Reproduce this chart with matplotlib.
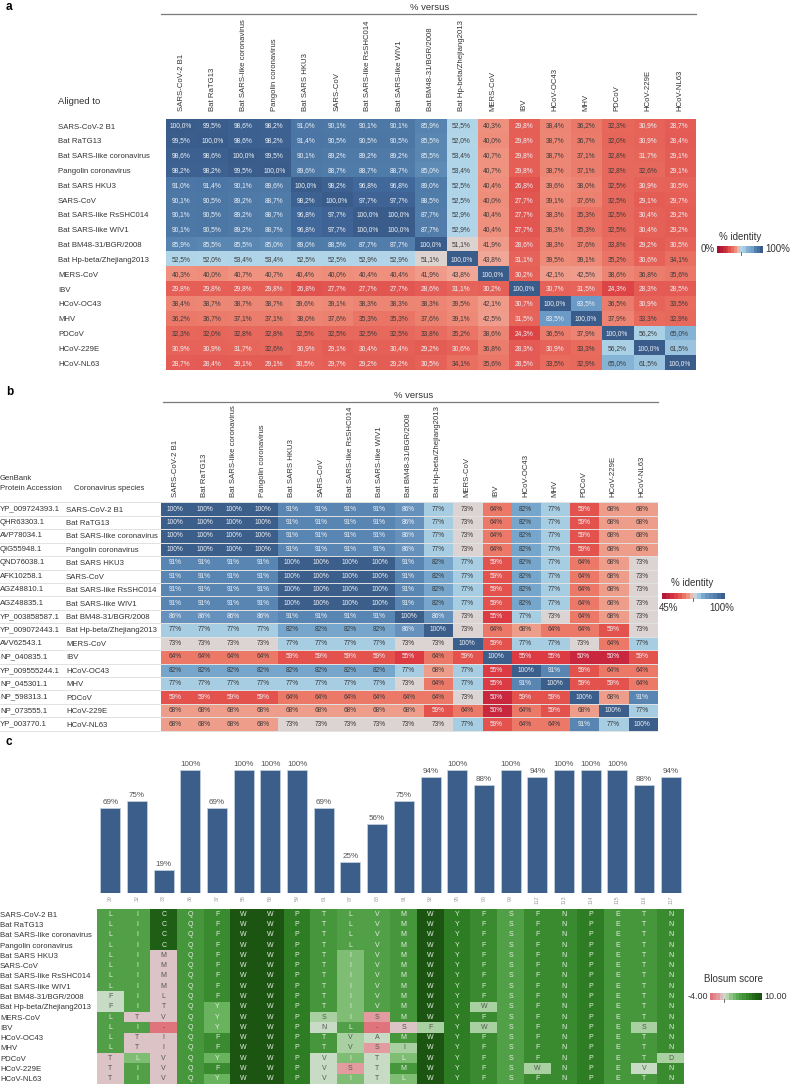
import matplotlib
matplotlib.use('Agg')
import matplotlib.pyplot as plt
import numpy as np
from matplotlib.colors import LinearSegmentedColormap, Normalize
from matplotlib.lines import Line2D

plt.rcParams['font.family'] = ['Liberation Sans', 'DejaVu Sans']

# ---------------- data ----------------
species = ['SARS-CoV-2 B1', 'Bat RaTG13', 'Bat SARS-like coronavirus', 'Pangolin coronavirus',
           'Bat SARS HKU3', 'SARS-CoV', 'Bat SARS-like RsSHC014', 'Bat SARS-like WIV1',
           'Bat BM48-31/BGR/2008', 'Bat Hp-beta/Zhejiang2013', 'MERS-CoV', 'IBV', 'HCoV-OC43',
           'MHV', 'PDCoV', 'HCoV-229E', 'HCoV-NL63']

accessions = ['YP_009724393.1', 'QHR63303.1', 'AVP78034.1', 'QIG55948.1', 'QND76038.1',
              'AFK10258.1', 'AGZ48810.1', 'AGZ48835.1', 'YP_003858587.1', 'YP_009072443.1',
              'AVV62543.1', 'NP_040835.1', 'YP_009555244.1', 'NP_045301.1', 'NP_598313.1',
              'NP_073555.1', 'YP_003770.1']

# panel a: % identity (aligned to row, versus column)
identity_a = [
    [100.0, 99.5, 98.6, 98.2, 91.0, 90.1, 90.1, 90.1, 85.9, 52.5, 40.3, 29.8, 38.4, 36.2, 32.3, 30.9, 28.7],
    [99.5, 100.0, 98.6, 98.2, 91.4, 90.5, 90.5, 90.5, 85.5, 52.0, 40.0, 29.8, 38.7, 36.7, 32.0, 30.9, 28.4],
    [98.6, 98.6, 100.0, 99.5, 90.1, 89.2, 89.2, 89.2, 85.5, 53.4, 40.7, 29.8, 38.7, 37.1, 32.8, 31.7, 29.1],
    [98.2, 98.2, 99.5, 100.0, 89.6, 88.7, 88.7, 88.7, 85.0, 53.4, 40.7, 29.8, 38.7, 37.1, 32.8, 32.6, 29.1],
    [91.0, 91.4, 90.1, 89.6, 100.0, 98.2, 96.8, 96.8, 89.0, 52.5, 40.4, 26.8, 39.6, 38.0, 32.5, 30.9, 30.5],
    [90.1, 90.5, 89.2, 88.7, 98.2, 100.0, 97.7, 97.7, 88.5, 52.5, 40.0, 27.7, 39.1, 37.6, 32.5, 29.1, 29.7],
    [90.1, 90.5, 89.2, 88.7, 96.8, 97.7, 100.0, 100.0, 87.7, 52.9, 40.4, 27.7, 38.3, 35.3, 32.5, 30.4, 29.2],
    [90.1, 90.5, 89.2, 88.7, 96.8, 97.7, 100.0, 100.0, 87.7, 52.9, 40.4, 27.7, 38.3, 35.3, 32.5, 30.4, 29.2],
    [85.9, 85.5, 85.5, 85.0, 89.0, 88.5, 87.7, 87.7, 100.0, 51.1, 41.9, 28.6, 38.3, 37.6, 33.8, 29.2, 30.5],
    [52.5, 52.0, 53.4, 53.4, 52.5, 52.5, 52.9, 52.9, 51.1, 100.0, 43.8, 31.1, 39.5, 39.1, 35.2, 30.6, 34.1],
    [40.3, 40.0, 40.7, 40.7, 40.4, 40.0, 40.4, 40.4, 41.9, 43.8, 100.0, 30.2, 42.1, 42.5, 38.6, 36.8, 35.6],
    [29.8, 29.8, 29.8, 29.8, 26.8, 27.7, 27.7, 27.7, 28.6, 31.1, 30.2, 100.0, 30.7, 31.5, 24.3, 28.3, 28.5],
    [38.4, 38.7, 38.7, 38.7, 39.6, 39.1, 38.3, 38.3, 38.3, 39.5, 42.1, 30.7, 100.0, 83.5, 36.5, 30.9, 33.5],
    [36.2, 36.7, 37.1, 37.1, 38.0, 37.6, 35.3, 35.3, 37.6, 39.1, 42.5, 31.5, 83.5, 100.0, 37.9, 33.3, 32.9],
    [32.3, 32.0, 32.8, 32.8, 32.5, 32.5, 32.5, 32.5, 33.8, 35.2, 38.6, 24.3, 36.5, 37.9, 100.0, 56.2, 65.0],
    [30.9, 30.9, 31.7, 32.6, 30.9, 29.1, 30.4, 30.4, 29.2, 30.6, 36.8, 28.3, 30.9, 33.3, 56.2, 100.0, 61.5],
    [28.7, 28.4, 29.1, 29.1, 30.5, 29.7, 29.2, 29.2, 30.5, 34.1, 35.6, 28.5, 33.5, 32.9, 65.0, 61.5, 100.0],
]

# panel b: % identity of the protein region
identity_b = [
    [100, 100, 100, 100, 91, 91, 91, 91, 86, 77, 73, 64, 82, 77, 59, 68, 68],
    [100, 100, 100, 100, 91, 91, 91, 91, 86, 77, 73, 64, 82, 77, 59, 68, 68],
    [100, 100, 100, 100, 91, 91, 91, 91, 86, 77, 73, 64, 82, 77, 59, 68, 68],
    [100, 100, 100, 100, 91, 91, 91, 91, 86, 77, 73, 64, 82, 77, 59, 68, 68],
    [91, 91, 91, 91, 100, 100, 100, 100, 91, 82, 77, 59, 82, 77, 64, 68, 73],
    [91, 91, 91, 91, 100, 100, 100, 100, 91, 82, 77, 59, 82, 77, 64, 68, 73],
    [91, 91, 91, 91, 100, 100, 100, 100, 91, 82, 77, 59, 82, 77, 64, 68, 73],
    [91, 91, 91, 91, 100, 100, 100, 100, 91, 82, 77, 59, 82, 77, 64, 68, 73],
    [86, 86, 86, 86, 91, 91, 91, 91, 100, 86, 73, 55, 77, 73, 64, 68, 73],
    [77, 77, 77, 77, 82, 82, 82, 82, 86, 100, 73, 64, 68, 64, 64, 59, 73],
    [73, 73, 73, 73, 77, 77, 77, 77, 73, 73, 100, 59, 77, 77, 73, 64, 77],
    [64, 64, 64, 64, 59, 59, 59, 59, 55, 64, 59, 100, 55, 55, 50, 50, 59],
    [82, 82, 82, 82, 82, 82, 82, 82, 77, 68, 77, 55, 100, 91, 59, 64, 64],
    [77, 77, 77, 77, 77, 77, 77, 77, 73, 64, 77, 55, 91, 100, 59, 59, 64],
    [59, 59, 59, 59, 64, 64, 64, 64, 64, 64, 73, 50, 59, 59, 100, 68, 91],
    [68, 68, 68, 68, 68, 68, 68, 68, 68, 59, 64, 50, 64, 59, 68, 100, 77],
    [68, 68, 68, 68, 73, 73, 73, 73, 73, 73, 77, 59, 64, 64, 91, 77, 100],
]

# panel c: residue positions, conservation (%) and residues per species
positions = ['29', '32', '33', '36', '37', '55', '58', '59', '61', '87', '88', '91',
             '92', '95', '96', '99', '112', '113', '114', '115', '116', '117']
conservation = [69, 75, 19, 100, 69, 100, 100, 100, 69, 25, 56, 75,
                94, 100, 88, 100, 94, 100, 100, 100, 88, 94]

# residues: one string per position, characters in species order
residues = [
    'LLLLLLLLFFLLLLTTT',  # 29
    'IIIIIIIIIITITTLII',  # 32
    'CCCCMMMMLTV-IIVVV',  # 33
    'QQQQQQQQQQQQQQQQQ',  # 36
    'FFFFFFFFFYYYFFYFY',  # 37
    'WWWWWWWWWWWWWWWWW',  # 55
    'WWWWWWWWWWWWWWWWW',  # 58
    'PPPPPPPPPPPPPPPPP',  # 59
    'TTTTTTTTTTSNTTVVV',  # 61
    'LLLLIIIIIIILVVISI',  # 87
    'VVVVVVVVVVS-ASTTT',  # 88
    'MMMMMMMMMMMSMILML',  # 91
    'WWWWWWWWWWWFWWWWW',  # 92
    'YYYYYYYYYYYYYYYYY',  # 95
    'FFFFFFFFFWFWFFFFF',  # 96
    'SSSSSSSSSSSSSSSSS',  # 99
    'FFFFFFFFFFFFFFFWF',  # 112
    'NNNNNNNNNNNNNNNNN',  # 113
    'PPPPPPPPPPPPPPPPP',  # 114
    'EEEEEEEEEEEEEEEEE',  # 115
    'TTTTTTTTTTTSTTTVT',  # 116
    'NNNNNNNNNNNNNNDNN',  # 117
]

# Blosum score per position (rows = species order)
blosum = [
    [4, 4, 4, 4, 4, 4, 4, 4, 0, 0, 4, 4, 4, 4, -1, -1, -1],
    [4, 4, 4, 4, 4, 4, 4, 4, 4, 4, -1, 4, -1, -1, 2, 4, 4],
    [9, 9, 9, 9, -1, -1, -1, -1, -1, -1, -1, -4, -1, -1, -1, -1, -1],
    [5] * 17,
    [6, 6, 6, 6, 6, 6, 6, 6, 6, 3, 3, 3, 6, 6, 3, 6, 3],
    [10] * 17,
    [10] * 17,
    [7] * 17,
    [5, 5, 5, 5, 5, 5, 5, 5, 5, 5, 1, 0, 5, 5, 0, 0, 0],
    [4, 4, 4, 4, 2, 2, 2, 2, 2, 2, 2, 4, 1, 1, 2, -2, 2],
    [4, 4, 4, 4, 4, 4, 4, 4, 4, 4, -2, -4, 0, -2, 0, 0, 0],
    [5, 5, 5, 5, 5, 5, 5, 5, 5, 5, 5, -1, 5, 1, 2, 5, 2],
    [10, 10, 10, 10, 10, 10, 10, 10, 10, 10, 10, 1, 10, 10, 10, 10, 10],
    [7] * 17,
    [6, 6, 6, 6, 6, 6, 6, 6, 6, 1, 6, 1, 6, 6, 6, 6, 6],
    [4] * 17,
    [6, 6, 6, 6, 6, 6, 6, 6, 6, 6, 6, 6, 6, 6, 6, 1, 6],
    [6] * 17,
    [7] * 17,
    [5] * 17,
    [5, 5, 5, 5, 5, 5, 5, 5, 5, 5, 5, 1, 5, 5, 5, 0, 5],
    [6, 6, 6, 6, 6, 6, 6, 6, 6, 6, 6, 6, 6, 6, 1, 6, 6],
]

# ---------------- colour maps ----------------
cmap_a = LinearSegmentedColormap.from_list('rb_a', [
    (0.00, '#a50f30'), (0.24, '#dc4345'), (0.28, '#e45a54'), (0.33, '#e86a5d'),
    (0.40, '#ef8d7b'), (0.44, '#f2a898'), (0.51, '#dcd3d1'), (0.52, '#b3d6e9'),
    (0.60, '#a2cbe3'), (0.65, '#86b4d6'), (0.835, '#6b9bc6'), (0.86, '#5682ae'),
    (0.90, '#4e79a7'), (0.97, '#41689a'), (1.00, '#3a5c8a')])

cmap_b = LinearSegmentedColormap.from_list('rb_b', [
    (0.00, '#b2183b'), (0.091, '#c9283e'), (0.182, '#dd3c45'), (0.255, '#e5534f'),
    (0.345, '#ec7868'), (0.418, '#f09c8a'), (0.509, '#ddd5d3'), (0.582, '#a6cde4'),
    (0.673, '#77a7cc'), (0.745, '#6792bd'), (0.836, '#5a86b3'), (1.00, '#3b5e8b')])

cmap_c = LinearSegmentedColormap.from_list('blosum', [
    (0.000, '#e0747c'), (0.143, '#e59ca1'), (0.214, '#dcc5c7'), (0.286, '#c9dcc6'),
    (0.357, '#a9d0a1'), (0.429, '#80bd74'), (0.500, '#6ab35f'), (0.571, '#52a048'),
    (0.643, '#47973d'), (0.714, '#3a8a2f'), (0.786, '#2f7e25'), (0.929, '#1f6016'),
    (1.000, '#1b5511')])

# ---------------- figure helpers ----------------
W, H = 792, 1086
fig = plt.figure(figsize=(W / 100, H / 100), dpi=100)
PT = 100 / 72.0


def px_axes(x0, y0, x1, y1):
    return fig.add_axes([x0 / W, 1 - y1 / H, (x1 - x0) / W, (y1 - y0) / H])


def ftext(x, y, s, **kw):
    return fig.text(x / W, 1 - y / H, s, **kw)


def hline(x0, x1, y, **kw):
    fig.add_artist(Line2D([x0 / W, x1 / W], [1 - y / H, 1 - y / H],
                          transform=fig.transFigure, **kw))


def vline(x, y0, y1, **kw):
    fig.add_artist(Line2D([x / W, x / W], [1 - y0 / H, 1 - y1 / H],
                          transform=fig.transFigure, **kw))


def clean(ax):
    for s in ax.spines.values():
        s.set_visible(False)


LAB = 5.6
TXT = '#333333'
LIGHT = '#eef1f5'

# ================= panel a =================
ftext(6, 7, 'a', fontsize=8.5, fontweight='bold', va='center', ha='left')
ftext(430, 7, '% versus', fontsize=6.8, ha='center', va='center', color=TXT)
hline(161, 696, 14.3, color='#7a7a7a', lw=0.9)
ftext(58, 102, 'Aligned to', fontsize=6.8, ha='left', va='center', color=TXT)

ax_l, ax_r, ax_t, ax_b = 165.5, 695, 118.6, 370.5
axa = px_axes(ax_l, ax_t, ax_r, ax_b)
A = np.array(identity_a)
axa.imshow(A, cmap=cmap_a, norm=Normalize(0, 100), aspect='auto', interpolation='nearest')
for i in range(A.shape[0]):
    for j in range(A.shape[1]):
        v = A[i, j]
        col = LIGHT if (v < 32 or v > 80) else '#3a3a3a'
        axa.text(j, i, f'{v:.1f}%'.replace('.', ','), ha='center', va='center',
                 fontsize=4.8, color=col)
axa.xaxis.tick_top()
axa.set_xticks(range(len(species)))
axa.set_xticklabels(species, rotation=90, fontsize=LAB, color=TXT)
axa.tick_params(axis='x', length=0, pad=(ax_t - 111) / PT)
axa.set_yticks(range(len(species)))
axa.set_yticklabels(species, fontsize=LAB, ha='left', color=TXT)
axa.tick_params(axis='y', length=0, pad=(ax_l - 58) / PT)
clean(axa)

# legend a
ftext(740, 237, '% identity', fontsize=7, ha='center', va='center', color=TXT)
lga = px_axes(717, 246, 763, 253)
lga.imshow(np.linspace(0, 100, 16)[None, :], cmap=cmap_a, norm=Normalize(0, 100),
           aspect='auto', interpolation='nearest')
lga.set_xticks([]); lga.set_yticks([]); clean(lga)
vline(741, 252, 255, color='#555555', lw=0.6)
ftext(715, 249.5, '0%', fontsize=7, ha='right', va='center', color=TXT)
ftext(765, 249.5, '100%', fontsize=7, ha='left', va='center', color=TXT)

# ================= panel b =================
ftext(6, 392, 'b', fontsize=8.5, fontweight='bold', va='center', ha='left')
ftext(414, 395, '% versus', fontsize=6.8, ha='center', va='center', color=TXT)
hline(163, 658, 402, color='#7a7a7a', lw=0.9)
ftext(0, 478, 'GenBank', fontsize=LAB, ha='left', va='center', color=TXT)
ftext(0, 488, 'Protein Accession', fontsize=LAB, ha='left', va='center', color=TXT)
ftext(74, 488, 'Coronavirus species', fontsize=LAB, ha='left', va='center', color=TXT)

bx_l, bx_r, bx_t, bx_b = 160.7, 656.7, 502.3, 730.8
axb = px_axes(bx_l, bx_t, bx_r, bx_b)
B = np.array(identity_b)
axb.imshow(B, cmap=cmap_b, norm=Normalize(45, 100), aspect='auto', interpolation='nearest')
for i in range(B.shape[0]):
    for j in range(B.shape[1]):
        v = B[i, j]
        col = LIGHT if (v <= 60 or v >= 85) else '#3a3a3a'
        axb.text(j, i, f'{v}%', ha='center', va='center', fontsize=4.7, color=col)
axb.xaxis.tick_top()
axb.set_xticks(range(len(species)))
axb.set_xticklabels(species, rotation=90, fontsize=LAB, color=TXT)
axb.tick_params(axis='x', length=0, pad=(bx_t - 497) / PT)
axb.set_yticks(range(len(species)))
axb.set_yticklabels(species, fontsize=LAB, ha='left', color=TXT)
axb.tick_params(axis='y', length=0, pad=(bx_l - 66) / PT)
ytr = axb.get_yaxis_transform()
x_acc = (0 - bx_l) / (bx_r - bx_l)
for i, acc in enumerate(accessions):
    axb.text(x_acc, i, acc, transform=ytr, fontsize=LAB, ha='left', va='center',
             color=TXT, clip_on=False)
for k in range(len(species) + 1):
    axb.plot([x_acc, 1], [k - 0.5, k - 0.5], transform=ytr, color='#e2e2e2',
             lw=0.7, clip_on=False)
axb.set_ylim(len(species) - 0.5, -0.5)
clean(axb)

# legend b
ftext(692, 583, '% identity', fontsize=7, ha='center', va='center', color=TXT)
lgb = px_axes(662, 593, 725, 599)
lgb.imshow(np.linspace(45, 100, 16)[None, :], cmap=cmap_b, norm=Normalize(45, 100),
           aspect='auto', interpolation='nearest')
lgb.set_xticks([]); lgb.set_yticks([]); clean(lgb)
vline(693, 598, 601, color='#555555', lw=0.6)
ftext(669, 608, '45%', fontsize=7, ha='center', va='center', color=TXT)
ftext(722, 608, '100%', fontsize=7, ha='center', va='center', color=TXT)

# ================= panel c =================
ftext(6, 742, 'c', fontsize=8.5, fontweight='bold', va='center', ha='left')
cx_l, cx_r = 97, 684
axc = px_axes(cx_l, 770, cx_r, 893)
xs = np.arange(len(positions))
axc.bar(xs, conservation, width=0.75, color='#3b5e8b', edgecolor='#c8d4e2', linewidth=0.5)
for x, v in zip(xs, conservation):
    axc.annotate(f'{v}%', (x, v), xytext=(0, 1.5), textcoords='offset points',
                 ha='center', va='bottom', fontsize=5.8, color='#555555',
                 annotation_clip=False)
axc.set_xlim(-0.5, len(positions) - 0.5)
axc.set_ylim(0, 100)
axc.set_xticks(xs)
axc.set_xticklabels(positions, rotation=90, fontsize=3.8, color='#9a9a9a')
axc.tick_params(axis='x', length=0, pad=2 / PT)
axc.set_yticks([])
clean(axc)

axh = px_axes(cx_l, 909, cx_r, 1084)
S = np.array(blosum).T  # rows = species, cols = positions
axh.imshow(S, cmap=cmap_c, norm=Normalize(-4, 10), aspect='auto', interpolation='nearest')
for j, col_res in enumerate(residues):
    for i, ch in enumerate(col_res):
        sc = S[i, j]
        col = '#e6efe4' if sc >= 2 else '#555555'
        axh.text(j, i, ch, ha='center', va='center', fontsize=5, color=col)
axh.set_xticks([])
axh.set_yticks(range(len(species)))
axh.set_yticklabels(species, fontsize=LAB, ha='left', color=TXT)
axh.tick_params(axis='y', length=0, pad=(cx_l - 0) / PT)
clean(axh)

# legend c
ftext(733, 979, 'Blosum score', fontsize=7, ha='center', va='center', color=TXT)
lgc = px_axes(710, 993, 762, 1000)
lgc.imshow(np.linspace(-4, 10, 16)[None, :], cmap=cmap_c, norm=Normalize(-4, 10),
           aspect='auto', interpolation='nearest')
lgc.set_xticks([]); lgc.set_yticks([]); clean(lgc)
vline(724, 999, 1002, color='#555555', lw=0.6)
ftext(708, 996.5, '-4.00', fontsize=6.5, ha='right', va='center', color=TXT)
ftext(764, 996.5, '10.00', fontsize=6.5, ha='left', va='center', color=TXT)

fig.savefig('out.png', dpi=100)
